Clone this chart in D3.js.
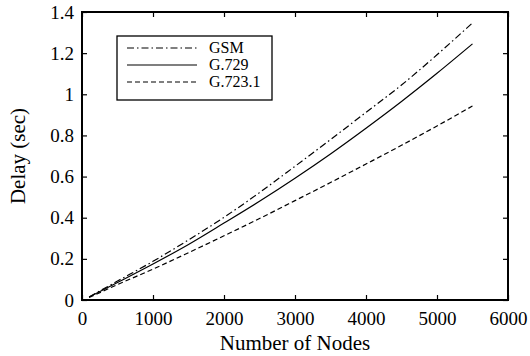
<!DOCTYPE html>
<html>
<head>
<meta charset="utf-8">
<script src="https://cdn.jsdelivr.net/npm/d3@7"></script>
<style>
  body { margin: 0; background: #fff; }
  text { font-family: "Liberation Serif", "Times New Roman", serif; fill: #000; }
</style>
</head>
<body>
<script>
// data
var nodes = [100, 500, 1000, 1500, 2000, 2500, 3000, 3500, 4000, 4500, 5000, 5500];
var gsm   = [0.015, 0.092, 0.188, 0.292, 0.402, 0.522, 0.650, 0.780, 0.912, 1.045, 1.192, 1.347];
var g729  = [0.014, 0.085, 0.175, 0.270, 0.374, 0.480, 0.592, 0.710, 0.835, 0.965, 1.102, 1.245];
var g7231 = [0.012, 0.075, 0.150, 0.230, 0.312, 0.396, 0.483, 0.571, 0.661, 0.752, 0.846, 0.943];
var seriesNames = ["GSM", "G.729", "G.723.1"];
var xTicks = [0, 1000, 2000, 3000, 4000, 5000, 6000];
var yTicks = [0, 0.2, 0.4, 0.6, 0.8, 1, 1.2, 1.4];

var margin = {top: 12, right: 22, bottom: 56, left: 82},
    width = 530 - margin.left - margin.right,
    height = 356 - margin.top - margin.bottom;

var x = d3.scaleLinear().domain([0, 6000]).range([0, width]);
var y = d3.scaleLinear().domain([0, 1.4]).range([height, 0]);

var svg = d3.select("body").append("svg")
    .attr("width", 530).attr("height", 356)
  .append("g")
    .attr("transform", "translate(" + margin.left + "," + margin.top + ")");

var series = [
  {name: seriesNames[0], values: gsm, dash: "7,3,1.5,3"},
  {name: seriesNames[1], values: g729, dash: null},
  {name: seriesNames[2], values: g7231, dash: "5,3"}
];

var line = d3.line()
    .x(function(d) { return x(d[0]); })
    .y(function(d) { return y(d[1]); })
    .curve(d3.curveMonotoneX);

series.forEach(function(s) {
  svg.append("path")
      .datum(nodes.map(function(n, i) { return [n, s.values[i]]; }))
      .attr("fill", "none")
      .attr("stroke", "#000")
      .attr("stroke-width", 1.2)
      .attr("stroke-dasharray", s.dash)
      .attr("d", line);
});

// axes, ticks pointing inward, mirrored on top/right
var fs = "19px";
var xAxis = svg.append("g")
    .attr("transform", "translate(0," + height + ")")
    .call(d3.axisBottom(x).tickValues(xTicks).tickSizeInner(-5).tickSizeOuter(0).tickPadding(12).tickFormat(d3.format("d")));
xAxis.selectAll("text").style("font-size", fs);

var yAxis = svg.append("g")
    .call(d3.axisLeft(y).tickValues(yTicks).tickSizeInner(-5).tickSizeOuter(0).tickPadding(8).tickFormat(function(d) { return d3.format("~g")(d); }));
yAxis.selectAll("text").style("font-size", fs);

svg.append("g")
    .call(d3.axisTop(x).tickValues(xTicks).tickSizeInner(-5).tickSizeOuter(0).tickFormat(""));
svg.append("g")
    .attr("transform", "translate(" + width + ",0)")
    .call(d3.axisRight(y).tickValues(yTicks).tickSizeInner(-5).tickSizeOuter(0).tickFormat(""));

svg.selectAll(".domain").remove();
svg.selectAll(".tick line").attr("stroke-width", 1.2);

svg.append("rect")
    .attr("width", width).attr("height", height)
    .attr("fill", "none").attr("stroke", "#000").attr("stroke-width", 2);

// axis labels
svg.append("text")
    .attr("x", width / 2).attr("y", height + 50)
    .attr("text-anchor", "middle")
    .style("font-size", "21px")
    .text("Number of Nodes");

svg.append("text")
    .attr("transform", "translate(" + (-57) + "," + (height / 2) + ") rotate(-90)")
    .attr("text-anchor", "middle")
    .style("font-size", "21px")
    .text("Delay (sec)");

// legend
var lg = svg.append("g").attr("transform", "translate(35,24)");
lg.append("rect")
    .attr("width", 155).attr("height", 64)
    .attr("fill", "#fff").attr("stroke", "#000").attr("stroke-width", 1.3);

series.forEach(function(s, i) {
  var ly = 12 + i * 17;
  lg.append("line")
      .attr("x1", 10).attr("x2", 80).attr("y1", ly).attr("y2", ly)
      .attr("stroke", "#000").attr("stroke-width", 1.2)
      .attr("stroke-dasharray", s.dash);
  lg.append("text")
      .attr("x", 92).attr("y", ly + 5)
      .style("font-size", "16px")
      .text(s.name);
});
</script>
</body>
</html>
